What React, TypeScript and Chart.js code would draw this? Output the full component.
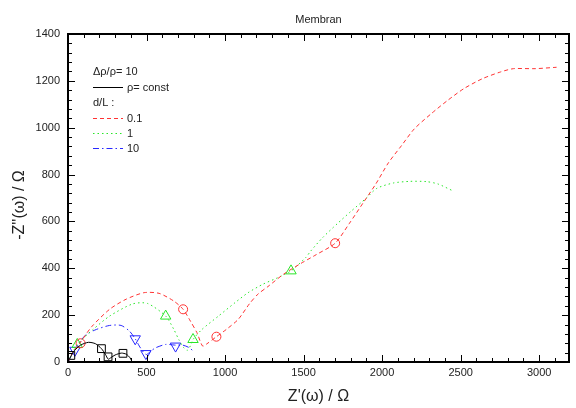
import { useEffect, useRef } from 'react';
import { Chart, registerables } from 'chart.js';
Chart.register(...registerables);

const TITLE = 'Membran';
const X_TITLE = "Z'(\u03c9) / \u03a9";
const Y_TITLE = "-Z''(\u03c9) / \u03a9";
const X_TICKS = [0, 500, 1000, 1500, 2000, 2500, 3000];
const Y_TICKS = [0, 200, 400, 600, 800, 1000, 1200, 1400];
const X_MAX = 3190;
const Y_MAX = 1400;

const LEGEND_HEAD = ['\u0394\u03c1/\u03c1= 10', '\u03c1= const', 'd/L :'];
const LEGEND_LABELS = ['0.1', '1', '10'];

// rho = const (black, solid)
const blackLine = [[0, 0], [15, 20], [40, 48], [80, 72], [130, 84], [175, 78], [213, 57], [238, 33], [256, 12], [272, 18], [300, 30], [340, 38], [372, 33], [395, 18], [405, 5]];
const blackMarks = [[18, 28], [213, 57], [255, 22], [350, 37]];

// d/L = 0.1 (red, dashed)
const redLine = [[0, 0], [30, 40], [75, 80], [150, 150], [265, 225], [370, 268], [485, 296], [580, 293], [674, 260], [733, 225], [779, 175], [821, 125], [857, 68], [885, 78], [945, 108], [1010, 140], [1084, 182], [1157, 250], [1210, 290], [1273, 322], [1373, 375], [1481, 420], [1580, 458], [1701, 507], [1790, 590], [1880, 680], [1960, 760], [2040, 850], [2124, 924], [2205, 995], [2313, 1060], [2418, 1117], [2521, 1167], [2638, 1209], [2754, 1238], [2836, 1252], [2974, 1252], [3111, 1258]];
const redMarks = [[80, 80], [733, 225], [945, 108], [1701, 507]];

// d/L = 1 (green, dotted)
const greenLine = [[0, 0], [30, 40], [59, 75], [160, 139], [265, 196], [412, 248], [506, 250], [622, 196], [674, 139], [706, 95], [738, 60], [760, 50], [780, 70], [796, 96], [853, 139], [958, 196], [1063, 253], [1147, 296], [1241, 332], [1336, 360], [1420, 389], [1514, 446], [1546, 474], [1620, 530], [1714, 590], [1800, 642], [1900, 700], [1966, 741], [2071, 764], [2176, 771], [2281, 770], [2355, 760], [2449, 731]];
const greenMarks = [[59, 75], [622, 196], [796, 96], [1420, 389]];

// d/L = 10 (blue, dash-dot)
const blueLine = [[0, 0], [20, 25], [44, 50], [80, 90], [118, 118], [181, 139], [265, 156], [338, 156], [391, 132], [428, 99], [454, 68], [480, 42], [500, 32], [530, 48], [559, 61], [622, 75], [685, 72], [730, 72], [770, 62], [800, 45]];
const blueMarks = [[44, 50], [428, 99], [496, 36], [685, 68]];

const RED = 'rgb(255,50,50)';
const GREEN = 'rgb(40,230,40)';
const BLUE = 'rgb(40,40,255)';
const FONT = 'Arial, "Liberation Sans", sans-serif';

const toXY = (a: number[][]) => a.map(([x, y]) => ({ x, y }));

const decor = {
  id: 'decor',
  afterDraw(chart: any) {
    const { ctx, chartArea: a, scales } = chart;
    const xs = scales.x, ys = scales.y;
    ctx.save();
    ctx.strokeStyle = '#000';
    ctx.lineWidth = 1;
    const seg = (x1: number, y1: number, x2: number, y2: number) => {
      ctx.beginPath(); ctx.moveTo(x1, y1); ctx.lineTo(x2, y2); ctx.stroke();
    };
    for (let v = 0; v <= X_MAX; v += 100) {
      const px = Math.round(xs.getPixelForValue(v)) + 0.5;
      const len = v % 500 === 0 ? 7 : 4;
      seg(px, a.bottom, px, a.bottom - len);
      seg(px, a.top, px, a.top + len);
    }
    for (let v = 0; v <= Y_MAX; v += 40) {
      const py = Math.round(ys.getPixelForValue(v)) + 0.5;
      const len = v % 200 === 0 ? 7 : 4;
      seg(a.left, py, a.left + len, py);
      seg(a.right, py, a.right - len, py);
    }
    ctx.lineWidth = 2;
    ctx.strokeRect(a.left, a.top, a.right - a.left, a.bottom - a.top);

    // title
    ctx.fillStyle = '#222';
    ctx.font = `11px ${FONT}`;
    ctx.textAlign = 'center';
    ctx.textBaseline = 'middle';
    ctx.fillText(TITLE, (a.left + a.right) / 2, 20);

    // axis titles
    ctx.font = `16px ${FONT}`;
    ctx.fillText(X_TITLE, (a.left + a.right) / 2, 397);
    ctx.save();
    ctx.translate(20, 205);
    ctx.rotate(-Math.PI / 2);
    ctx.fillText(Y_TITLE, 0, 0);
    ctx.restore();

    // legend
    ctx.font = `11px ${FONT}`;
    ctx.textAlign = 'left';
    const lx = 93, tx = 127;
    ctx.fillText(LEGEND_HEAD[0], lx, 72);
    ctx.lineWidth = 1;
    ctx.strokeStyle = '#000';
    ctx.setLineDash([]);
    seg(lx, 87.5, lx + 30, 87.5);
    ctx.fillText(LEGEND_HEAD[1], tx, 88);
    ctx.fillText(LEGEND_HEAD[2], lx, 103);
    const styles = [[RED, [4, 3]], [GREEN, [1.5, 3]], [BLUE, [6, 3, 1.5, 3]]] as any[];
    const ys2 = [118.5, 133.5, 148.5];
    styles.forEach(([c, d], i) => {
      ctx.strokeStyle = c;
      ctx.setLineDash(d);
      seg(lx, ys2[i], lx + 30, ys2[i]);
      ctx.setLineDash([]);
      ctx.fillText(LEGEND_LABELS[i], tx, ys2[i]);
    });
    ctx.restore();
  },
};

export default function App() {
  const ref = useRef<HTMLCanvasElement>(null);
  useEffect(() => {
    if (!ref.current) return;
    Chart.defaults.font.family = FONT;
    const line = (data: number[][], color: string, dash: number[]) => ({
      data: toXY(data), showLine: true, borderColor: color, borderWidth: 1, borderDash: dash,
      pointRadius: 0, tension: 0.25, fill: false,
    });
    const marks = (data: number[][], color: string, style: string, r: number, rot = 0) => ({
      data: toXY(data), showLine: false, borderColor: color, backgroundColor: 'rgba(0,0,0,0)',
      pointStyle: style, pointRadius: r, pointBorderWidth: 1, pointRotation: rot,
    });
    const chart = new Chart(ref.current, {
      type: 'scatter',
      data: {
        datasets: [
          line(blackLine, '#000', []),
          line(redLine, RED, [4, 3]),
          line(greenLine, GREEN, [1.5, 3]),
          line(blueLine, BLUE, [6, 3, 1.5, 3]),
          marks(blackMarks, '#000', 'rect', 5.5),
          marks(redMarks, RED, 'circle', 4.5),
          marks(greenMarks, GREEN, 'triangle', 6),
          marks(blueMarks, BLUE, 'triangle', 6, 180),
        ] as any,
      },
      options: {
        animation: false,
        responsive: false,
        maintainAspectRatio: false,
        layout: { padding: { top: 34, right: 1, left: 0, bottom: 0 } },
        plugins: { legend: { display: false }, tooltip: { enabled: false }, title: { display: false } },
        scales: {
          x: {
            type: 'linear', min: 0, max: X_MAX,
            afterBuildTicks: (s: any) => { s.ticks = X_TICKS.map((v) => ({ value: v })); },
            afterFit: (s: any) => { s.height = 46; },
            ticks: { autoSkip: false, maxRotation: 0, padding: 4, color: '#222', font: { size: 11 }, callback: (v: any) => String(v) },
            grid: { display: false, drawTicks: false },
            border: { display: false },
          },
          y: {
            type: 'linear', min: 0, max: Y_MAX,
            afterBuildTicks: (s: any) => { s.ticks = Y_TICKS.map((v) => ({ value: v })); },
            afterFit: (s: any) => { s.width = 68; },
            ticks: { autoSkip: false, padding: 8, color: '#222', font: { size: 11 }, callback: (v: any) => String(v) },
            grid: { display: false, drawTicks: false },
            border: { display: false },
          },
        },
      } as any,
      plugins: [decor],
    });
    return () => chart.destroy();
  }, []);
  return (
    <canvas
      ref={ref}
      width={576}
      height={408}
      style={{ position: 'absolute', left: 0, top: 0, width: 576, height: 408, display: 'block', background: '#fff' }}
    />
  );
}
